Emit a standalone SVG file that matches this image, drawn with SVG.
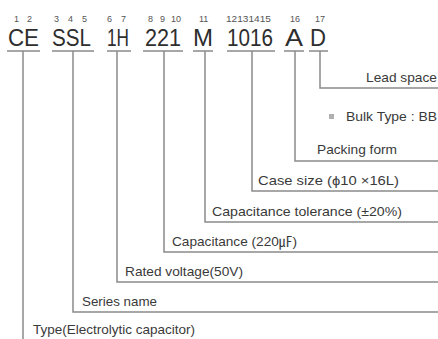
<svg xmlns="http://www.w3.org/2000/svg" width="438" height="339" viewBox="0 0 438 339">
<style>
.big{font-family:"Liberation Sans",Arial,sans-serif;font-size:24px;fill:#2e2e2e}
.num{font-family:"Liberation Sans",Arial,sans-serif;font-size:9px;fill:#555}
.lbl{font-family:"Liberation Sans","Noto Sans CJK KR",Arial,sans-serif;font-size:13.5px;fill:#3a3a3a}
.ln{fill:none;stroke:#8a8a8a;stroke-width:1.5}
</style>
<rect width="438" height="339" fill="#fff"/>
<g id="code-CE">
<text class="num" x="14" y="22">1</text><text class="num" x="27" y="22">2</text>
<text class="big" x="8" y="46" textLength="31" lengthAdjust="spacingAndGlyphs">CE</text>
<path class="ln" d="M7,51H40"/>
</g>
<g id="code-SSL">
<text class="num" x="54" y="22">3</text><text class="num" x="68" y="22">4</text><text class="num" x="82" y="22">5</text>
<text class="big" x="52" y="46" textLength="39" lengthAdjust="spacingAndGlyphs">SSL</text>
<path class="ln" d="M52,51H94"/>
</g>
<g id="code-1H">
<text class="num" x="107" y="22">6</text><text class="num" x="121" y="22">7</text>
<text class="big" x="107" y="46" textLength="22" lengthAdjust="spacingAndGlyphs">1H</text>
<path class="ln" d="M107,51H131"/>
</g>
<g id="code-221">
<text class="num" x="148" y="22">8</text><text class="num" x="160" y="22">9</text><text class="num" x="171" y="22">10</text>
<text class="big" x="145" y="46" textLength="36" lengthAdjust="spacingAndGlyphs">221</text>
<path class="ln" d="M143,51H183"/>
</g>
<g id="code-M">
<text class="num" x="199" y="22">11</text>
<text class="big" x="193" y="46" textLength="20" lengthAdjust="spacingAndGlyphs">M</text>
<path class="ln" d="M193,51H213"/>
</g>
<g id="code-1016">
<text class="num" x="226" y="22" textLength="45" lengthAdjust="spacingAndGlyphs">12131415</text>
<text class="big" x="227" y="46" textLength="46" lengthAdjust="spacingAndGlyphs">1016</text>
<path class="ln" d="M227,51H275"/>
</g>
<g id="code-A">
<text class="num" x="290" y="22">16</text>
<text class="big" x="285" y="46" textLength="18" lengthAdjust="spacingAndGlyphs">A</text>
<path class="ln" d="M284,51H304"/>
</g>
<g id="code-D">
<text class="num" x="315" y="22">17</text>
<text class="big" x="310" y="46" textLength="16" lengthAdjust="spacingAndGlyphs">D</text>
<path class="ln" d="M309,51H328"/>
</g>
<g id="connectors">
<path class="ln" d="M320,51V88H438"/>
<path class="ln" d="M295,51V161H438"/>
<path class="ln" d="M252,51V191H438"/>
<path class="ln" d="M205,51V222H438"/>
<path class="ln" d="M164,51V252H438"/>
<path class="ln" d="M117,51V282H438"/>
<path class="ln" d="M73,51V312H438"/>
<path class="ln" d="M23,51V339"/>
</g>
<g id="label-lead">
<text class="lbl" x="366" y="82" textLength="71" lengthAdjust="spacingAndGlyphs">Lead space</text>
</g>
<g id="label-bulk">
<rect x="329" y="114" width="5" height="5" fill="#b0b0b0"/>
<text class="lbl" x="346" y="121" textLength="91" lengthAdjust="spacingAndGlyphs">Bulk Type : BB</text>
</g>
<g id="label-packing">
<text class="lbl" x="317" y="154" textLength="80" lengthAdjust="spacingAndGlyphs">Packing form</text>
</g>
<g id="label-case">
<text class="lbl" x="258" y="185" textLength="141" lengthAdjust="spacingAndGlyphs">Case size (ϕ10 ×16L)</text>
</g>
<g id="label-tolerance">
<text class="lbl" x="212" y="216" textLength="190" lengthAdjust="spacingAndGlyphs">Capacitance tolerance (±20%)</text>
</g>
<g id="label-capacitance">
<text class="lbl" x="172" y="246" textLength="125" lengthAdjust="spacingAndGlyphs">Capacitance (220㎌)</text>
</g>
<g id="label-voltage">
<text class="lbl" x="125" y="276" textLength="118" lengthAdjust="spacingAndGlyphs">Rated voltage(50V)</text>
</g>
<g id="label-series">
<text class="lbl" x="82" y="306" textLength="75" lengthAdjust="spacingAndGlyphs">Series name</text>
</g>
<g id="label-type">
<text class="lbl" x="33" y="334" textLength="162" lengthAdjust="spacingAndGlyphs">Type(Electrolytic capacitor)</text>
</g>
</svg>
